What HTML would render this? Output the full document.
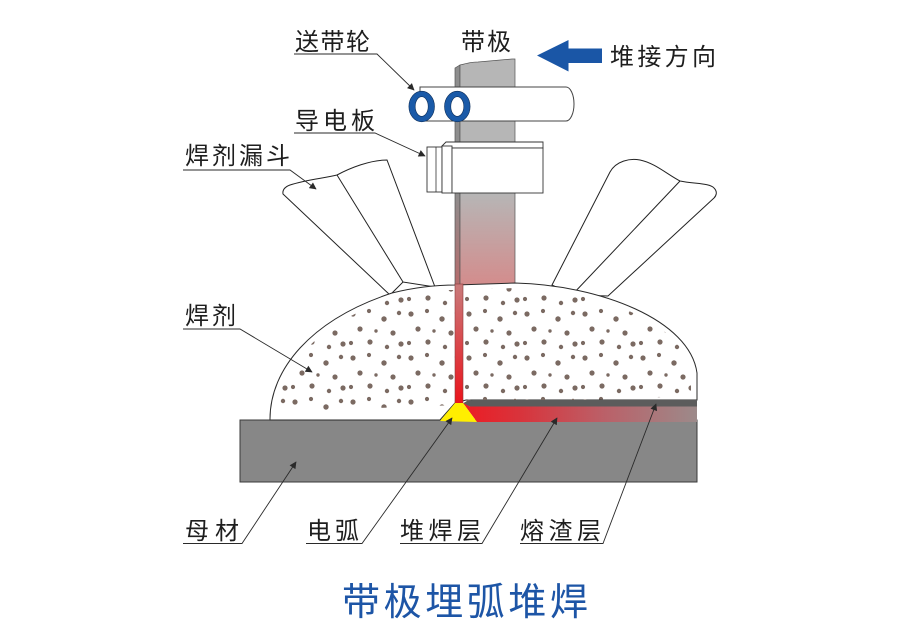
<!DOCTYPE html>
<html><head><meta charset="utf-8"><style>
html,body{margin:0;padding:0;background:#fff;}
svg{display:block;}
text{font-family:"Liberation Sans","Noto Sans CJK SC",sans-serif;fill:#1e1e1e;}
</style></head><body>
<svg width="900" height="633" viewBox="0 0 900 633" xmlns="http://www.w3.org/2000/svg">
<defs>
  <marker id="ah" viewBox="0 0 10 10" refX="9" refY="5" markerWidth="9" markerHeight="7" markerUnits="userSpaceOnUse" orient="auto">
    <path d="M0,0 L10,5 L0,10 Z" fill="#2a2a2a"/>
  </marker>
  <linearGradient id="stripG" gradientUnits="userSpaceOnUse" x1="0" y1="59" x2="0" y2="290">
    <stop offset="0" stop-color="#b6b6b6"/>
    <stop offset="0.58" stop-color="#b6b6b6"/>
    <stop offset="1" stop-color="#d58a8a"/>
  </linearGradient>
  <linearGradient id="stripEdge" gradientUnits="userSpaceOnUse" x1="0" y1="59" x2="0" y2="290">
    <stop offset="0" stop-color="#8e8e8e"/>
    <stop offset="0.58" stop-color="#8e8e8e"/>
    <stop offset="1" stop-color="#b86a6a"/>
  </linearGradient>
  <linearGradient id="innerStrip" gradientUnits="userSpaceOnUse" x1="0" y1="285" x2="0" y2="403">
    <stop offset="0" stop-color="#c97a7a"/>
    <stop offset="1" stop-color="#ea141c"/>
  </linearGradient>
  <linearGradient id="weldG" gradientUnits="userSpaceOnUse" x1="463" y1="0" x2="697" y2="0">
    <stop offset="0" stop-color="#ec1c24"/>
    <stop offset="0.25" stop-color="#d8343c"/>
    <stop offset="0.6" stop-color="#bb6068"/>
    <stop offset="1" stop-color="#9c8a8a"/>
  </linearGradient>
  <pattern id="dots" patternUnits="userSpaceOnUse" x="0" y="0" width="58" height="44">
    <g fill="#7b6a62">
      <circle cx="5" cy="6" r="2.6"/>
      <circle cx="21" cy="3" r="2.1"/>
      <circle cx="36" cy="11" r="2.7"/>
      <circle cx="51" cy="5" r="2.2"/>
      <circle cx="12" cy="21" r="2.6"/>
      <circle cx="28" cy="23" r="1.7"/>
      <circle cx="45" cy="25" r="2.6"/>
      <circle cx="3" cy="35" r="2.1"/>
      <circle cx="22" cy="34" r="2.6"/>
      <circle cx="39" cy="39" r="2.2"/>
      <circle cx="53" cy="36" r="2.6"/>
    </g>
  </pattern>
  <clipPath id="moundClip">
    <path d="M276,418 C276,372 314,324 394,298 C422,291 440,290 456,290 L515,288 C598,290 684,322 691,373 L691,396 L272,412 Z"/>
  </clipPath>
</defs>

<!-- left funnel -->
<path d="M390,295 L283,194 Q282,188 290,185 C305,180 325,178 337,175 C350,168 370,160 387,160 L435,287 L403,282 Z" fill="#fff" stroke="#222" stroke-width="1"/>
<path d="M337,175 L403,282" stroke="#222" stroke-width="1" fill="none"/>
<!-- right funnel -->
<path d="M552,285 L610,172 C616,161 630,158 640,160 C655,163 668,175 680,181 C694,184 710,183 714,188 C718,192 716,196 714,198 L608,296 L572,295 Z" fill="#fff" stroke="#222" stroke-width="1"/>
<path d="M680,181 L572,295" stroke="#222" stroke-width="1" fill="none"/>

<!-- strip -->
<path d="M455,68 L460,65 L460,292 L455,292 Z" fill="url(#stripEdge)" stroke="#555" stroke-width="0.7"/>
<path d="M460,65 C468,63 472,62 478,62 L512,59 L515,59 L515,292 L460,292 Z" fill="url(#stripG)" stroke="#555" stroke-width="0.7"/>

<!-- roller -->
<path d="M420,87 L566,87 A8,17 0 0 1 566,121 L420,121 Z" fill="#fff" stroke="#444" stroke-width="1"/>
<ellipse cx="421.7" cy="106.5" rx="12.8" ry="15.3" fill="#1a5aa8" stroke="#0e2f5a" stroke-width="0.6"/>
<ellipse cx="421.7" cy="106.5" rx="6.5" ry="9.8" fill="#fff" stroke="#0e2f5a" stroke-width="0.6"/>
<ellipse cx="457.3" cy="106.5" rx="12.8" ry="15.3" fill="#1a5aa8" stroke="#0e2f5a" stroke-width="0.6"/>
<ellipse cx="457.3" cy="106.5" rx="6.5" ry="9.8" fill="#fff" stroke="#0e2f5a" stroke-width="0.6"/>

<!-- contact plate -->
<path d="M442,146 L446,142 L543,142 L543,148 L452,148 Z" fill="#fff" stroke="#333" stroke-width="0.9"/>
<rect x="427" y="147" width="15" height="45" fill="#fff" stroke="#333" stroke-width="0.9"/>
<line x1="436" y1="147" x2="436" y2="192" stroke="#333" stroke-width="0.8"/>
<rect x="442" y="146" width="10" height="47" fill="#fff" stroke="#333" stroke-width="0.9"/>
<rect x="452" y="148" width="91" height="45" fill="#fff" stroke="#333" stroke-width="0.9"/>

<!-- base plate -->
<rect x="240" y="420" width="457" height="62" fill="#878787" stroke="#3a3a3a" stroke-width="1"/>

<!-- flux mound -->
<path d="M270,419 C270,370 310,320 392,293 C420,286 440,285 456,285 L515,283 C600,285 690,320 697,373 L697,400 L466,400 L455,403 L440,420 L270,420 Z" fill="#fff" stroke="#2a2a2a" stroke-width="1"/>
<rect x="270" y="280" width="430" height="140" fill="url(#dots)" clip-path="url(#moundClip)"/>
<!-- inner strip (red edge) -->
<rect x="455" y="284" width="8" height="120" fill="url(#innerStrip)" stroke="#8a3a3a" stroke-width="0.6"/>
<!-- slag -->
<path d="M463,404 Q466,400 473,400 L697,400 L697,406.5 L470,406.5 Z" fill="#5c5c5c"/>
<!-- weld layer -->
<path d="M463,403 L470,406.5 L697,406.5 L697,422 L477,422 Z" fill="url(#weldG)"/>
<!-- arc -->
<path d="M440,421 L455,403 L463,403 L477,422 Z" fill="#ffee00"/>

<!-- blue arrow -->
<path d="M537,55.5 L568.5,40 L568.5,48.5 L602,48.5 L602,63 L568.5,63 L568.5,71.5 Z" fill="#1a56a6"/>

<!-- leaders -->
<g stroke="#2a2a2a" stroke-width="0.9" fill="none">
  <path d="M294,54 L377,54 L414,90" marker-end="url(#ah)"/>
  <path d="M294,133 L375,133 L425,156" marker-end="url(#ah)"/>
  <path d="M183,170 L290,170 L316,189" marker-end="url(#ah)"/>
  <path d="M183,329 L240,329 L312,372" marker-end="url(#ah)"/>
  <path d="M183,543.5 L242,543.5 L296,462" marker-end="url(#ah)"/>
  <path d="M306,543.5 L362,543.5 L452,418" marker-end="url(#ah)"/>
  <path d="M400,543.5 L482,543.5 L557,418" marker-end="url(#ah)"/>
  <path d="M520,543.5 L603,543.5 L656,404" marker-end="url(#ah)"/>
</g>

<!-- labels -->
<g font-size="24">
  <text x="295" y="50" textLength="75" lengthAdjust="spacing">送带轮</text>
  <text x="461" y="50" textLength="50" lengthAdjust="spacing">带极</text>
  <text x="610" y="65" textLength="106" lengthAdjust="spacing">堆接方向</text>
  <text x="295" y="129" textLength="80" lengthAdjust="spacing">导电板</text>
  <text x="185" y="164" textLength="105" lengthAdjust="spacing">焊剂漏斗</text>
  <text x="185" y="324" textLength="51" lengthAdjust="spacing">焊剂</text>
  <text x="185" y="539" textLength="54" lengthAdjust="spacing">母材</text>
  <text x="307" y="539" textLength="52" lengthAdjust="spacing">电弧</text>
  <text x="400" y="539" textLength="81" lengthAdjust="spacing">堆焊层</text>
  <text x="520" y="539" textLength="81" lengthAdjust="spacing">熔渣层</text>
</g>
<text x="342" y="615" font-size="38" textLength="246" lengthAdjust="spacing" style="fill:#1d55a6">带极埋弧堆焊</text>
</svg>
</body></html>
